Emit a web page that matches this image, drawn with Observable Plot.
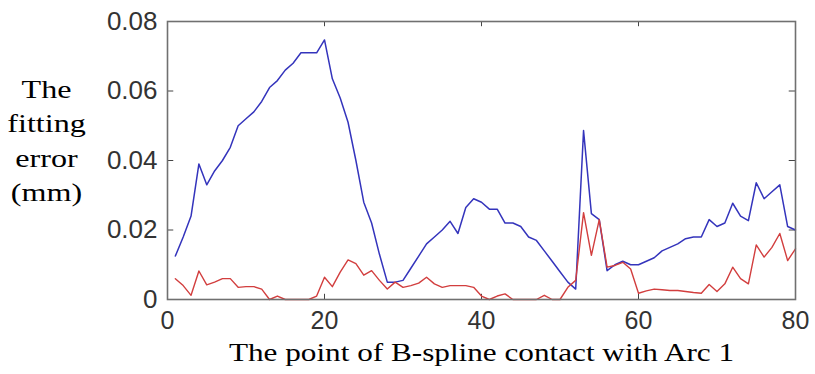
<!DOCTYPE html>
<html>
<head>
<meta charset="utf-8">
<script src="https://cdn.jsdelivr.net/npm/d3@7"></script>
<script src="https://cdn.jsdelivr.net/npm/@observablehq/plot@0.6"></script>
<style>
  html, body { margin: 0; padding: 0; background: #ffffff; }
  svg { display: block; }
</style>
</head>
<body>
<div id="chart"></div>
<script>
const pointIndex = d3.range(1, 81);
const blueError = [
  0.0125, 0.018, 0.024, 0.039, 0.033, 0.037, 0.040, 0.0438, 0.050, 0.052,
  0.054, 0.057, 0.061, 0.063, 0.066, 0.068, 0.071, 0.071, 0.071, 0.0747,
  0.0635, 0.058, 0.051, 0.040, 0.028, 0.022, 0.013, 0.005, 0.005, 0.0055,
  0.009, 0.0125, 0.016, 0.018, 0.020, 0.0225, 0.019, 0.0265, 0.029, 0.028,
  0.026, 0.026, 0.022, 0.022, 0.021, 0.018, 0.017, 0.014, 0.011, 0.008,
  0.005, 0.003, 0.0486, 0.0247, 0.023, 0.0083, 0.010, 0.011, 0.010, 0.010,
  0.011, 0.012, 0.014, 0.015, 0.016, 0.0175, 0.018, 0.018, 0.023, 0.021,
  0.022, 0.0277, 0.024, 0.0227, 0.0336, 0.029, 0.031, 0.033, 0.021, 0.020
];
const redError = [
  0.006, 0.004, 0.0012, 0.0082, 0.0042, 0.005, 0.006, 0.006, 0.0035, 0.0037,
  0.0037, 0.003, 0, 0.001, 0, 0, 0, 0, 0.001, 0.0064,
  0.0037, 0.0079, 0.0114, 0.0103, 0.007, 0.0083, 0.0055, 0.003, 0.005, 0.0035,
  0.004, 0.0047, 0.0064, 0.0045, 0.0035, 0.004, 0.004, 0.004, 0.0035, 0.001,
  0, 0.001, 0.0016, 0, 0, 0, 0, 0.0012, 0, 0,
  0.0035, 0.0055, 0.025, 0.0127, 0.023, 0.0093, 0.0098, 0.0107, 0.0088, 0.0018,
  0.0025, 0.003, 0.0028, 0.0026, 0.0026, 0.0023, 0.002, 0.0018, 0.0043, 0.0023,
  0.0045, 0.0093, 0.006, 0.0045, 0.0157, 0.0122, 0.015, 0.019, 0.0112, 0.0146
];
const xTicks = [0, 20, 40, 60, 80];
const yTicks = [0, 0.02, 0.04, 0.06, 0.08];
const xLabel = "The point of B-spline contact with Arc 1";
const yLabel = "The\nfitting\nerror\n(mm)";

const blueData = pointIndex.map((x, i) => ({x, y: blueError[i]}));
const redData = pointIndex.map((x, i) => ({x, y: redError[i]}));

const tickFont = "'Liberation Sans', Arial, sans-serif";
const serif = "'Liberation Serif', 'Times New Roman', serif";

const chart = Plot.plot({
  width: 815,
  height: 374,
  marginLeft: 167,
  marginRight: 20,
  marginTop: 21,
  marginBottom: 75,
  style: {background: "transparent", overflow: "visible"},
  x: {domain: [0, 80]},
  y: {domain: [0, 0.08]},
  marks: [
    Plot.axisX(xTicks, {tickSize: 0, tickPadding: 12, fontSize: 25, fontFamily: tickFont, fill: "#333", label: null}),
    Plot.axisY(yTicks, {tickSize: 0, tickPadding: 10, fontSize: 26, fontFamily: tickFont, fill: "#333", label: null,
      tickFormat: d => d === 0 ? "0" : d.toFixed(2)}),
    Plot.ruleX(xTicks.slice(1, -1), {x: d => d, y1: 0, y2: 0.0015, stroke: "#444", strokeWidth: 1}),
    Plot.ruleX(xTicks.slice(1, -1), {x: d => d, y1: 0.08, y2: 0.0785, stroke: "#444", strokeWidth: 1}),
    Plot.ruleY(yTicks.slice(1, -1), {y: d => d, x1: 0, x2: 0.8, stroke: "#444", strokeWidth: 1}),
    Plot.ruleY(yTicks.slice(1, -1), {y: d => d, x1: 80, x2: 79.2, stroke: "#444", strokeWidth: 1}),
    Plot.lineY(blueData, {x: "x", y: "y", stroke: "#3434bc", strokeWidth: 1.5}),
    Plot.lineY(redData, {x: "x", y: "y", stroke: "#d23e3e", strokeWidth: 1.4}),
    Plot.frame({stroke: "#707070", strokeWidth: 1.6}),
    Plot.text([yLabel], {frameAnchor: "left", dx: -121, dy: -22, text: d => d, lineHeight: 1.33,
      fontSize: 26, fontFamily: serif, fill: "#000", textAnchor: "middle"}),
    Plot.text([xLabel], {frameAnchor: "bottom", dx: 0, dy: 61, text: d => d,
      fontSize: 26, fontFamily: serif, fill: "#000", textAnchor: "middle"})
  ]
});
document.getElementById("chart").appendChild(chart);

// The reference's serif labels are horizontally stretched; widen glyphs to match.
const stretches = [1.235, 1.2];
chart.querySelectorAll('g[aria-label="text"]').forEach((g, gi) => {
  const stretch = stretches[gi] ?? 1.2;
  g.querySelectorAll("text").forEach(t => {
    const spans = t.querySelectorAll("tspan");
    const els = spans.length ? Array.from(spans) : [t];
    els.forEach(e => {
      const len = e.getComputedTextLength();
      e.setAttribute("textLength", len * stretch);
      e.setAttribute("lengthAdjust", "spacingAndGlyphs");
    });
  });
});
</script>
</body>
</html>
